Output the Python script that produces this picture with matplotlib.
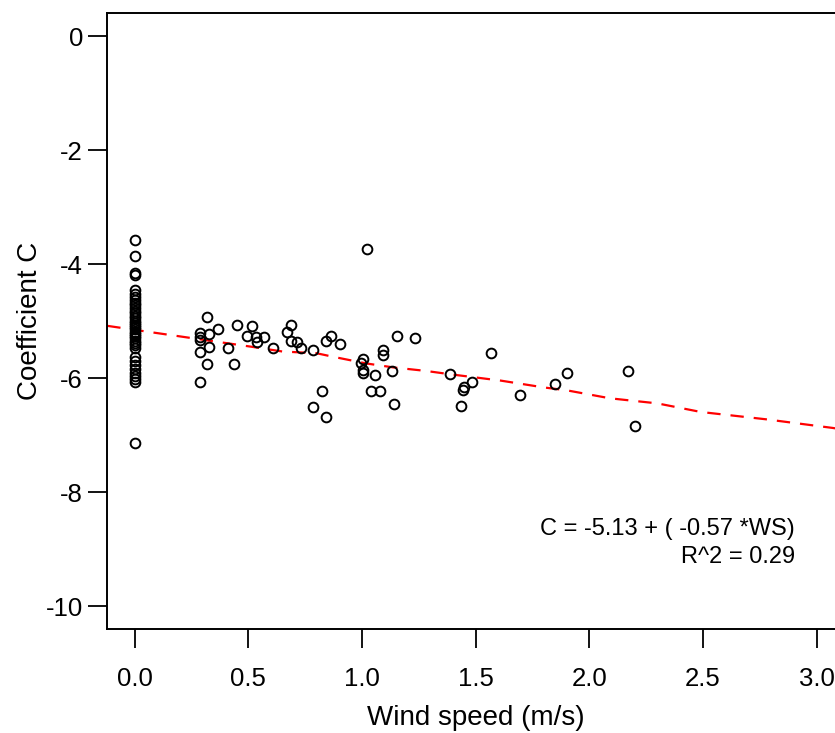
import numpy as np
import matplotlib
matplotlib.use("Agg")
import matplotlib.pyplot as plt

plt.rcParams["font.family"] = ["Liberation Sans", "DejaVu Sans"]

# points at zero wind speed
ws_calm = [0.0] * 37
c_calm = [-3.57, -3.86, -4.15, -4.18, -4.45, -4.52, -4.58, -4.63, -4.68, -4.72,
          -4.77, -4.82, -4.86, -4.90, -4.95, -5.00, -5.03, -5.07, -5.10, -5.14,
          -5.18, -5.22, -5.26, -5.30, -5.34, -5.38, -5.42, -5.47, -5.62, -5.70,
          -5.76, -5.83, -5.90, -5.96, -6.02, -6.06, -7.14]

# points with wind
ws_wind = [0.286, 0.286, 0.286, 0.286, 0.286, 0.318, 0.318, 0.327, 0.327, 0.365,
           0.412, 0.437, 0.452, 0.494, 0.516, 0.534, 0.540, 0.570, 0.610,
           0.672, 0.690, 0.690, 0.713, 0.733, 0.785, 0.785, 0.824, 0.841, 0.841,
           0.866, 0.902, 0.997, 1.005, 1.005, 1.005, 1.023, 1.038, 1.056, 1.078,
           1.093, 1.093, 1.134, 1.141, 1.155, 1.235, 1.385, 1.434, 1.445, 1.449,
           1.482, 1.567, 1.695, 1.849, 1.900, 2.168, 2.201]
c_wind = [-5.21, -5.27, -5.33, -5.53, -6.07, -4.93, -5.75, -5.22, -5.45, -5.13,
          -5.47, -5.75, -5.06, -5.25, -5.09, -5.28, -5.37, -5.28, -5.47,
          -5.19, -5.06, -5.34, -5.37, -5.47, -5.50, -6.51, -6.22, -5.34, -6.67,
          -5.25, -5.40, -5.74, -5.66, -5.86, -5.90, -3.73, -6.22, -5.95, -6.22,
          -5.50, -5.59, -5.88, -6.45, -5.25, -5.29, -5.92, -6.49, -6.21, -6.16,
          -6.07, -5.56, -6.29, -6.10, -5.91, -5.88, -6.83]

# smooth fit (dashed red)
fit_ws = [-0.12, 0.0, 0.26, 0.52, 0.65, 0.80, 0.87, 1.02, 1.14, 1.28, 1.39,
          1.47, 1.61, 1.80, 1.90, 2.09, 2.30, 2.49, 2.78, 3.07, 3.12]
fit_c = [-5.08, -5.15, -5.30, -5.45, -5.53, -5.56, -5.62, -5.74, -5.81, -5.87,
         -5.93, -5.97, -6.04, -6.16, -6.21, -6.35, -6.44, -6.59, -6.72, -6.87, -6.90]

x_ticks = [0.0, 0.5, 1.0, 1.5, 2.0, 2.5, 3.0]
y_ticks = [0, -2, -4, -6, -8, -10]

fig = plt.figure(figsize=(8.35, 7.33), dpi=100)
ax = fig.add_axes([0.1285, 0.1415, 1.0108 - 0.1285, 0.9819 - 0.1415])

ax.plot(ws_calm + ws_wind, c_calm + c_wind, "o", mfc="none", mec="black",
        ms=7.0, mew=1.4, clip_on=False, zorder=3)
ax.plot(fit_ws, fit_c, color="#ff0000", lw=1.6, dashes=(6, 4.5), zorder=2)

ax.set_xlim(-0.12, 3.12)
ax.set_ylim(-10.4, 0.4)
ax.set_xticks(x_ticks)
ax.set_xticklabels([f"{v:.1f}" for v in x_ticks])
ax.set_yticks(y_ticks)
ax.set_yticklabels([str(v) for v in y_ticks])

for s in ax.spines.values():
    s.set_linewidth(1.4)
ax.tick_params(direction="out", length=13.5, width=1.3, labelsize=18.5, pad=4)
ax.tick_params(axis="x", pad=14)

ax.set_xlabel("Wind speed (m/s)", fontsize=20, labelpad=10)
ax.set_ylabel("Coefficient C", fontsize=20, labelpad=2)

ax.text(2.905, -8.75, "C = -5.13 + ( -0.57 *WS)", ha="right", va="baseline", fontsize=17)
ax.text(2.905, -9.23, "R^2 = 0.29", ha="right", va="baseline", fontsize=17)

fig.savefig("out.png", dpi=100)
